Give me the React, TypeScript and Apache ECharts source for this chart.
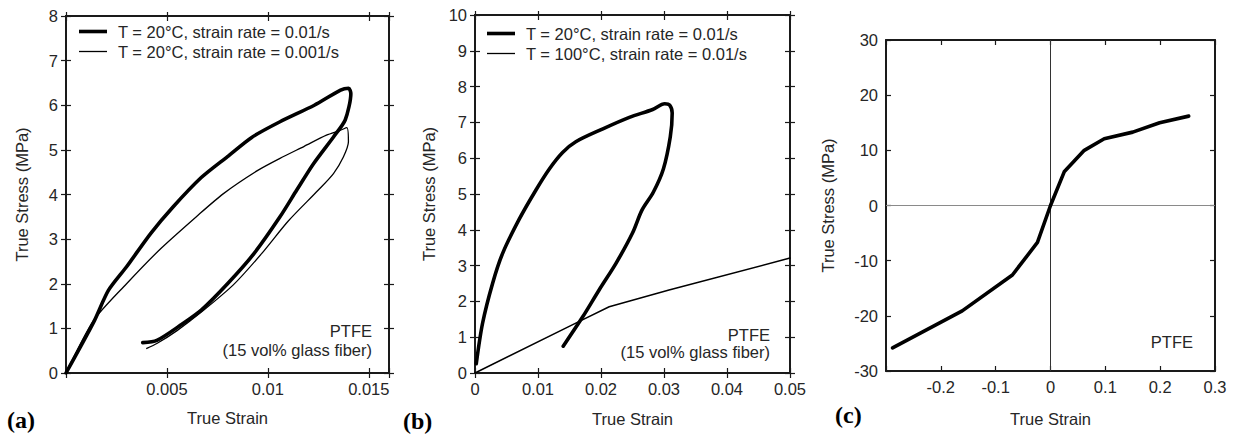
import React, { useEffect, useRef } from "react";
import * as echarts from "echarts";

// ---------- Data ----------
// (a) PTFE 15 vol% glass fiber, T = 20°C
const aFastX = [0, 0.00137, 0.0021, 0.003, 0.0042, 0.0053, 0.0067, 0.008, 0.0092, 0.0106, 0.0123, 0.0136, 0.014, 0.01411, 0.01383, 0.01325, 0.01226, 0.01143, 0.0106, 0.0093, 0.008, 0.0067, 0.0057, 0.0045, 0.0038];
const aFastY = [0, 1.14, 1.85, 2.38, 3.13, 3.72, 4.38, 4.85, 5.28, 5.63, 6.0, 6.34, 6.38, 6.26, 5.67, 5.29, 4.69, 4.1, 3.5, 2.67, 2.0, 1.41, 1.08, 0.73, 0.68];
const aSlowX = [0, 0.00137, 0.003, 0.0047, 0.0065, 0.0078, 0.0095, 0.0106, 0.0118, 0.0129, 0.0136, 0.01391, 0.01399, 0.01374, 0.01325, 0.0125, 0.011, 0.0097, 0.0083, 0.0068, 0.0055, 0.0045, 0.004];
const aSlowY = [0, 1.18, 2.0, 2.79, 3.52, 4.02, 4.54, 4.81, 5.08, 5.33, 5.44, 5.5, 5.18, 4.84, 4.47, 4.1, 3.4, 2.68, 1.98, 1.4, 0.95, 0.66, 0.55];

// (b)
const bColdX = [0.0002, 0.0012, 0.0028, 0.0044, 0.007, 0.0097, 0.0118, 0.0139, 0.016, 0.0203, 0.0245, 0.0282, 0.0301, 0.0309, 0.0313, 0.031, 0.0299, 0.0283, 0.0265, 0.025, 0.0224, 0.0197, 0.0171, 0.014];
const bColdY = [0.26, 1.39, 2.51, 3.35, 4.29, 5.12, 5.7, 6.16, 6.46, 6.82, 7.14, 7.36, 7.52, 7.48, 7.26, 6.6, 5.7, 5.05, 4.55, 3.91, 3.07, 2.32, 1.57, 0.75];
const bHotX = [0, 0.0164, 0.0213, 0.0308, 0.05];
const bHotY = [0, 1.43, 1.85, 2.32, 3.21];

// (c)
const cX = [-0.288, -0.161, -0.0695, -0.0238, 0, 0.025, 0.0616, 0.098, 0.15, 0.199, 0.252];
const cY = [-25.8, -19.1, -12.6, -6.7, 0, 6.1, 10.0, 12.1, 13.3, 15.0, 16.2];

const aXLabels = [0.005, 0.01, 0.015];
const bXLabels = [0, 0.01, 0.02, 0.03, 0.04, 0.05];
const cXLabels = [-0.2, -0.1, 0, 0.1, 0.2, 0.3];

const nameFast = "T = 20°C, strain rate = 0.01/s";
const nameSlow = "T = 20°C, strain rate = 0.001/s";
const nameHot = "T = 100°C, strain rate = 0.01/s";

const zip = (xs: number[], ys: number[]) => xs.map((x, i) => [x, ys[i]]);

const FONT = "Liberation Sans";
const FS = 16.5;
const INK = "#1a1a1a";
const LABEL = "#262626";

const ICON_THICK = "path://M0 0H28V3.6H0Z";
const ICON_THIN = "path://M0 0H28V1.3H0Z";

function labelFilter(list: number[]) {
  return (v: number) => {
    const hit = list.find((t) => Math.abs(t - v) < 1e-9);
    return hit === undefined ? "" : String(hit);
  };
}

export default function App() {
  const ref = useRef<HTMLDivElement>(null);
  useEffect(() => {
    if (!ref.current) return;
    const chart = echarts.init(ref.current, null, { renderer: "svg" });

    const grids = [
      { left: 66, top: 16, width: 323, height: 357 },
      { left: 475, top: 15, width: 315, height: 358 },
      { left: 886, top: 40, width: 329, height: 331 },
    ].map((g) => ({ ...g, outerBoundsMode: "none", containLabel: false }));

    const xr = [
      { min: 0, max: 0.016, interval: 0.005, labels: aXLabels, gap: 36, cross: true },
      { min: 0, max: 0.05, interval: 0.01, labels: bXLabels, gap: 37, cross: true },
      { min: -0.3, max: 0.3, interval: 0.1, labels: cXLabels, gap: 39, cross: false },
    ];
    const yr = [
      { min: 0, max: 8, interval: 1, gap: 36, cross: true },
      { min: 0, max: 10, interval: 1, gap: 38, cross: true },
      { min: -30, max: 30, interval: 10, gap: 50, cross: false },
    ];

    const xAxis: any[] = [];
    const yAxis: any[] = [];
    const mainX: number[] = [];
    const mainY: number[] = [];

    const lineStyle = { color: INK, width: 2 };
    const tickStyle = { color: INK, width: 1.2 };

    xr.forEach((r, gi) => {
      const base = {
        type: "value",
        gridIndex: gi,
        min: r.min,
        max: r.max,
        interval: r.interval,
        splitLine: { show: false },
        axisLine: { show: true, onZero: false, lineStyle },
      };
      mainX.push(xAxis.length);
      xAxis.push({
        ...base,
        position: "bottom",
        name: "True Strain",
        nameLocation: "middle",
        nameGap: r.gap,
        nameTextStyle: { fontFamily: FONT, fontSize: FS, color: LABEL },
        axisTick: { show: true, inside: !r.cross, length: 5, lineStyle: tickStyle },
        axisLabel: {
          show: true,
          margin: 7,
          fontFamily: FONT,
          fontSize: FS,
          color: LABEL,
          showMinLabel: true,
          showMaxLabel: true,
          formatter: labelFilter(r.labels),
        },
      });
      if (r.cross) {
        xAxis.push({ ...base, position: "bottom", axisTick: { inside: true, length: 5, lineStyle: tickStyle }, axisLabel: { show: false } });
        xAxis.push({ ...base, position: "top", axisTick: { inside: false, length: 4, lineStyle: tickStyle }, axisLabel: { show: false } });
      }
      xAxis.push({ ...base, position: "top", axisTick: { inside: true, length: 5, lineStyle: tickStyle }, axisLabel: { show: false } });
    });

    yr.forEach((r, gi) => {
      const base = {
        type: "value",
        gridIndex: gi,
        min: r.min,
        max: r.max,
        interval: r.interval,
        splitLine: { show: false },
        axisLine: { show: true, onZero: false, lineStyle },
      };
      mainY.push(yAxis.length);
      yAxis.push({
        ...base,
        position: "left",
        name: "True Stress (MPa)",
        nameLocation: "middle",
        nameGap: r.gap,
        nameTextStyle: { fontFamily: FONT, fontSize: FS, color: LABEL },
        axisTick: { show: true, inside: !r.cross, length: 5, lineStyle: tickStyle },
        axisLabel: { show: true, margin: 8, fontFamily: FONT, fontSize: FS, color: LABEL },
      });
      if (r.cross) {
        yAxis.push({ ...base, position: "left", axisTick: { inside: true, length: 5, lineStyle: tickStyle }, axisLabel: { show: false } });
        yAxis.push({ ...base, position: "right", axisTick: { inside: false, length: 5, lineStyle: tickStyle }, axisLabel: { show: false } });
      }
      yAxis.push({ ...base, position: "right", axisTick: { inside: true, length: 5, lineStyle: tickStyle }, axisLabel: { show: false } });
    });

    const mk = (name: string, gi: number, data: number[][], width: number, smooth: number, extra: any = {}) => ({
      type: "line",
      name,
      xAxisIndex: mainX[gi],
      yAxisIndex: mainY[gi],
      data,
      showSymbol: false,
      symbol: "none",
      smooth,
      lineStyle: { color: "#000", width, join: "round", cap: "round" },
      itemStyle: { color: "#000" },
      z: 5,
      ...extra,
    });

    const series: any[] = [
      mk(nameFast, 0, zip(aFastX, aFastY), 3.6, 0.25),
      mk(nameSlow, 0, zip(aSlowX, aSlowY), 1.3, 0.25),
      mk(nameFast, 1, zip(bColdX, bColdY), 3.6, 0.3),
      mk(nameHot, 1, zip(bHotX, bHotY), 1.5, 0),
      mk("PTFE", 2, zip(cX, cY), 3.6, 0, {
        markLine: {
          silent: true,
          symbol: "none",
          label: { show: false },
          z: 1,
          data: [
            { xAxis: 0, lineStyle: { color: "#333", width: 1, type: "solid" } },
            { yAxis: 0, lineStyle: { color: "#8a8a8a", width: 1, type: "solid" } },
          ],
        },
      }),
    ];

    const legendBase = {
      orient: "vertical",
      padding: 0,
      itemWidth: 28,
      itemHeight: 14,
      itemGap: 3,
      selectedMode: false,
      symbolKeepAspect: true,
      itemStyle: { color: "#000", borderWidth: 0 },
      textStyle: { fontFamily: FONT, fontSize: FS, color: LABEL, lineHeight: 16, padding: [0, 0, 0, 6] },
    };

    const txt = (x: number, y: number, s: string, align = "right", font = `${FS}px ${FONT}`, fill = LABEL) => ({
      type: "text",
      x,
      y,
      style: { text: s, font, fill, textAlign: align, textVerticalAlign: "middle" },
    });

    chart.setOption({
      animation: false,
      backgroundColor: "#fff",
      grid: grids,
      xAxis,
      yAxis,
      legend: [
        {
          ...legendBase,
          left: 79,
          top: 23,
          data: [
            { name: nameFast, icon: ICON_THICK },
            { name: nameSlow, icon: ICON_THIN },
          ],
        },
        {
          ...legendBase,
          left: 487,
          top: 25,
          data: [
            { name: nameFast, icon: ICON_THICK },
            { name: nameHot, icon: ICON_THIN },
          ],
        },
      ],
      series,
      graphic: [
        txt(372, 331, "PTFE"),
        txt(372, 350, "(15 vol% glass fiber)"),
        txt(770, 335, "PTFE"),
        txt(770, 352, "(15 vol% glass fiber)"),
        txt(1193, 342, "PTFE"),
        txt(7, 420, "(a)", "left", `bold 24px Liberation Serif`, "#000"),
        txt(403, 421, "(b)", "left", `bold 24px Liberation Serif`, "#000"),
        txt(835, 415, "(c)", "left", `bold 24px Liberation Serif`, "#000"),
      ],
    });
    return () => chart.dispose();
  }, []);
  return <div ref={ref} style={{ position: "absolute", left: 0, top: 0, width: 1238, height: 435 }} />;
}
